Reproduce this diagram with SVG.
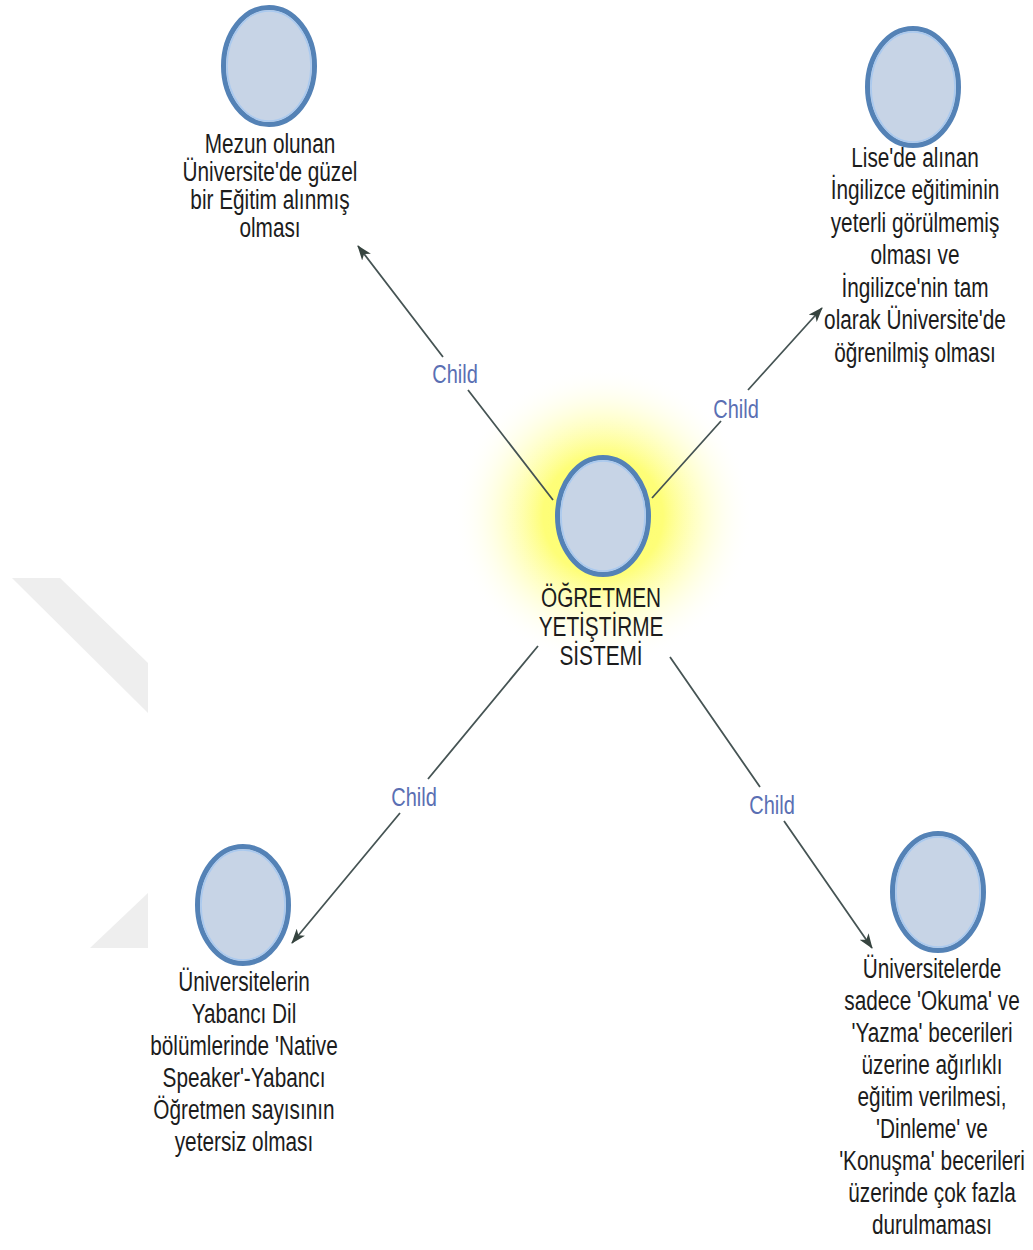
<svg xmlns="http://www.w3.org/2000/svg" width="1033" height="1250" viewBox="0 0 1033 1250">
  <defs>
    <radialGradient id="glow" cx="603" cy="516" r="150" gradientUnits="userSpaceOnUse">
      <stop offset="0" stop-color="#fdfd6a"/>
      <stop offset="0.4" stop-color="#fefe78"/>
      <stop offset="0.68" stop-color="#ffffbc" stop-opacity="0.6"/>
      <stop offset="1" stop-color="#ffffff" stop-opacity="0"/>
    </radialGradient>
    <marker id="arrow" viewBox="0 0 15 11" refX="14" refY="5.5" markerWidth="15" markerHeight="11" markerUnits="userSpaceOnUse" orient="auto">
      <path d="M0,0 L15,5.5 L0,11 L4,5.5 z" fill="#36443f"/>
    </marker>
    <style>
      .bg { fill: #ffffff; }
      .mark { fill: #eeeeee; }
      .node-shape { fill: #c7d4e6; stroke: #5482b6; stroke-width: 5; }
      .node-inner { fill: none; stroke: #a9c9ef; stroke-width: 1.5; }
      .label { font-family: "Liberation Sans", Arial, sans-serif; font-size: 27px; fill: #1c1c1c; text-anchor: middle; }
      .edge { fill: none; stroke: #465454; stroke-width: 1.8; }
      .edge-label { font-family: "Liberation Sans", Arial, sans-serif; font-size: 25px; fill: #5a6fb3; text-anchor: middle; }
    </style>
  </defs>

  <rect class="bg" x="0" y="0" width="1033" height="1250"/>

  <!-- faint background mark on the left -->
  <polygon class="mark" points="12,578 60,578 148,663 148,713"/>
  <polygon class="mark" points="148,893 148,948 90,948"/>

  <!-- highlight around the root node -->
  <circle cx="603" cy="516" r="150" fill="url(#glow)"/>

  <g id="connectors">
    <path class="edge" d="M553,500 L468,390 M443,357 L358,246" marker-end="url(#arrow)"/>
    <path class="edge" d="M652,498 L721,421 M748,390 L822,308" marker-end="url(#arrow)"/>
    <path class="edge" d="M538,646 L428,779 M400,813 L292,943" marker-end="url(#arrow)"/>
    <path class="edge" d="M670,657 L760,787 M784,821 L872,948" marker-end="url(#arrow)"/>
    <g transform="translate(455,0) scale(0.8,1)"><text class="edge-label" x="0" y="383">Child</text></g>
    <g transform="translate(736,0) scale(0.8,1)"><text class="edge-label" x="0" y="418">Child</text></g>
    <g transform="translate(414,0) scale(0.8,1)"><text class="edge-label" x="0" y="806">Child</text></g>
    <g transform="translate(772,0) scale(0.8,1)"><text class="edge-label" x="0" y="814">Child</text></g>
  </g>

  <g id="node-root">
    <ellipse class="node-shape" cx="603" cy="516" rx="45.5" ry="58.5"/>
    <ellipse class="node-inner" cx="603" cy="516" rx="42" ry="55"/>
    <g transform="translate(601,0) scale(0.77,1)">
      <text class="label" x="0" y="607">ÖĞRETMEN</text>
      <text class="label" x="0" y="636">YETİŞTİRME</text>
      <text class="label" x="0" y="665">SİSTEMİ</text>
    </g>
  </g>

  <g id="node-mezun">
    <ellipse class="node-shape" cx="269" cy="66" rx="45.5" ry="58.5"/>
    <ellipse class="node-inner" cx="269" cy="66" rx="42" ry="55"/>
    <g transform="translate(270,0) scale(0.77,1)">
      <text class="label" x="0" y="153">Mezun olunan</text>
      <text class="label" x="0" y="181">Üniversite'de güzel</text>
      <text class="label" x="0" y="209">bir Eğitim alınmış</text>
      <text class="label" x="0" y="237">olması</text>
    </g>
  </g>

  <g id="node-lise">
    <ellipse class="node-shape" cx="913" cy="87" rx="45.5" ry="58.5"/>
    <ellipse class="node-inner" cx="913" cy="87" rx="42" ry="55"/>
    <g transform="translate(915,0) scale(0.77,1)">
      <text class="label" x="0" y="167">Lise'de alınan</text>
      <text class="label" x="0" y="199">İngilizce eğitiminin</text>
      <text class="label" x="0" y="232">yeterli görülmemiş</text>
      <text class="label" x="0" y="264">olması ve</text>
      <text class="label" x="0" y="297">İngilizce'nin tam</text>
      <text class="label" x="0" y="329">olarak Üniversite'de</text>
      <text class="label" x="0" y="362">öğrenilmiş olması</text>
    </g>
  </g>

  <g id="node-native">
    <ellipse class="node-shape" cx="243" cy="905" rx="45.5" ry="58.5"/>
    <ellipse class="node-inner" cx="243" cy="905" rx="42" ry="55"/>
    <g transform="translate(244,0) scale(0.77,1)">
      <text class="label" x="0" y="991">Üniversitelerin</text>
      <text class="label" x="0" y="1023">Yabancı Dil</text>
      <text class="label" x="0" y="1055">bölümlerinde 'Native</text>
      <text class="label" x="0" y="1087">Speaker'-Yabancı</text>
      <text class="label" x="0" y="1119">Öğretmen sayısının</text>
      <text class="label" x="0" y="1151">yetersiz olması</text>
    </g>
  </g>

  <g id="node-beceri">
    <ellipse class="node-shape" cx="938" cy="892" rx="45.5" ry="58.5"/>
    <ellipse class="node-inner" cx="938" cy="892" rx="42" ry="55"/>
    <g transform="translate(932,0) scale(0.77,1)">
      <text class="label" x="0" y="978">Üniversitelerde</text>
      <text class="label" x="0" y="1010">sadece 'Okuma' ve</text>
      <text class="label" x="0" y="1042">'Yazma' becerileri</text>
      <text class="label" x="0" y="1074">üzerine ağırlıklı</text>
      <text class="label" x="0" y="1106">eğitim verilmesi,</text>
      <text class="label" x="0" y="1138">'Dinleme' ve</text>
      <text class="label" x="0" y="1170">'Konuşma' becerileri</text>
      <text class="label" x="0" y="1202">üzerinde çok fazla</text>
      <text class="label" x="0" y="1234">durulmaması</text>
    </g>
  </g>
</svg>
